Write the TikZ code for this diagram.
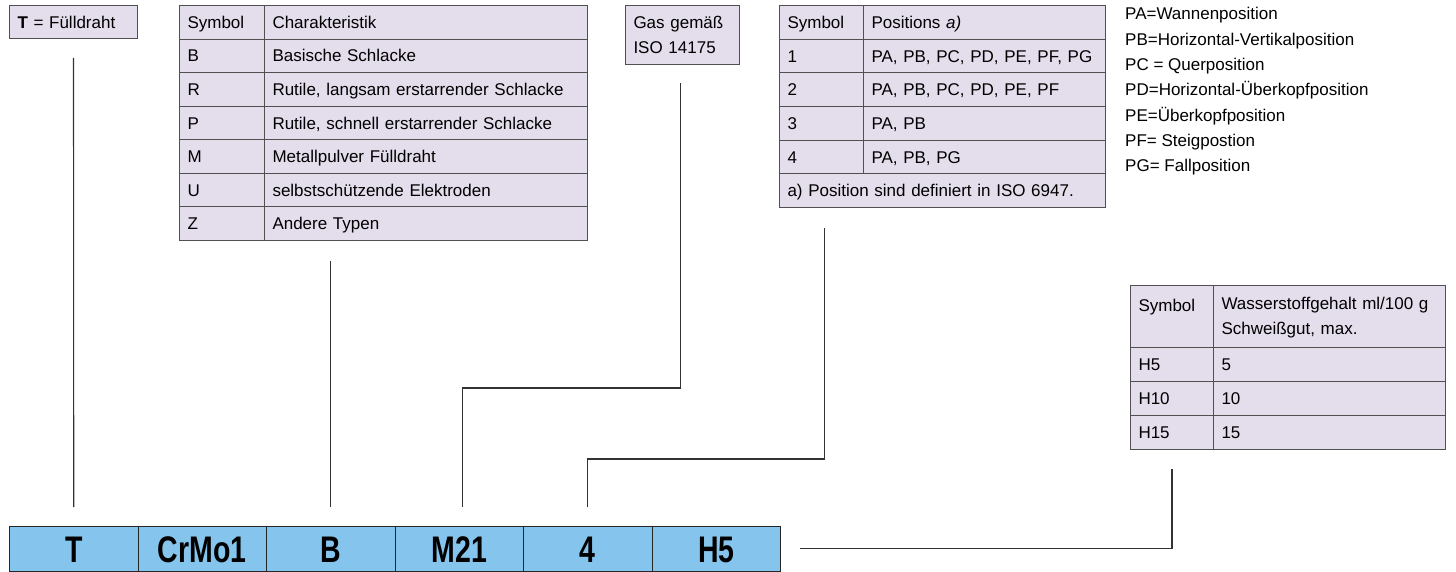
\documentclass[tikz,border=0pt]{standalone}
\usepackage{fontspec}
\setmainfont{Liberation Sans}
\newfontfamily\barfont{Liberation Sans}[FakeStretch=0.77]
\usetikzlibrary{calc}
\definecolor{lav}{HTML}{E4DDEC}
\definecolor{bord}{HTML}{505050}
\definecolor{barblue}{HTML}{85C4EC}
\definecolor{linecol}{HTML}{333333}
\begin{document}
\begin{tikzpicture}[x=1pt,y=-1pt,
  every node/.style={font=\fontsize{17}{25.3}\selectfont},
  cell/.style={draw=bord, fill=lav, line width=1pt, inner xsep=8pt, inner ysep=0pt, anchor=north west, align=left},
  one/.style={text height=16pt, text depth=3.8pt},
  t1a/.style={cell, one, text width=69pt, minimum height=33.57pt},
  t1b/.style={cell, one, text width=307pt, minimum height=33.57pt},
  t2a/.style={cell, one, text width=68pt, minimum height=33.67pt},
  t2b/.style={cell, one, text width=226pt, minimum height=33.67pt},
  t3a/.style={cell, one, text width=67pt, minimum height=34pt},
  t3b/.style={cell, one, text width=216pt, minimum height=34pt},
  legend/.style={anchor=base west, inner sep=0pt},
  barcell/.style={draw=black!85, fill=barblue, line width=1pt, anchor=north west, inner sep=0pt,
     minimum width=128.5pt, minimum height=44.5pt, text height=27pt, text depth=0pt,
     font={\barfont\bfseries\fontsize{37}{40}\selectfont}},
  conn/.style={draw=linecol, line width=1.1pt}
]
\useasboundingbox (0,0) rectangle (1456,572);

% T = Fuelldraht
\node[cell, one, text width=112pt, minimum height=33pt] (fuell) at (9,5) {\textbf{T} = Fülldraht};

% Table 1
\node[t1a] (t1a0) at (179,5) {Symbol};
\node[t1b] (t1b0) at (264,5) {Charakteristik};
\node[t1a] (t1a1) at (179,38.57) {B};
\node[t1b] (t1b1) at (264,38.57) {Basische Schlacke};
\node[t1a] (t1a2) at (179,72.14) {R};
\node[t1b] (t1b2) at (264,72.14) {Rutile, langsam erstarrender Schlacke};
\node[t1a] (t1a3) at (179,105.71) {P};
\node[t1b] (t1b3) at (264,105.71) {Rutile, schnell erstarrender Schlacke};
\node[t1a] (t1a4) at (179,139.29) {M};
\node[t1b] (t1b4) at (264,139.29) {Metallpulver Fülldraht};
\node[t1a] (t1a5) at (179,172.86) {U};
\node[t1b] (t1b5) at (264,172.86) {selbstschützende Elektroden};
\node[t1a] (t1a6) at (179,206.43) {Z};
\node[t1b] (t1b6) at (264,206.43) {Andere Typen};

% Gas box
\node[cell, text width=98pt, minimum height=59pt] (gas) at (625,5) {Gas gemäß\\ISO 14175};

% Table 2
\node[t2a] (t2a0) at (779,5) {Symbol};
\node[t2b] (t2b0) at (863,5) {Positions \textit{a)}};
\node[t2a] (t2a1) at (779,38.67) {1};
\node[t2b] (t2b1) at (863,38.67) {PA, PB, PC, PD, PE, PF, PG};
\node[t2a] (t2a2) at (779,72.33) {2};
\node[t2b] (t2b2) at (863,72.33) {PA, PB, PC, PD, PE, PF};
\node[t2a] (t2a3) at (779,106) {3};
\node[t2b] (t2b3) at (863,106) {PA, PB};
\node[t2a] (t2a4) at (779,139.67) {4};
\node[t2b] (t2b4) at (863,139.67) {PA, PB, PG};
\node[cell, one, text width=310pt, minimum height=33.67pt] (t2f) at (779,173.33) {a) Position sind definiert in ISO 6947.};

% Legend
\node[legend] (leg1) at (1125,20) {PA=Wannenposition};
\node[legend] (leg2) at (1125,45.3) {PB=Horizontal-Vertikalposition};
\node[legend] (leg3) at (1125,70.6) {PC = Querposition};
\node[legend] (leg4) at (1125,95.9) {PD=Horizontal-Überkopfposition};
\node[legend] (leg5) at (1125,121.2) {PE=Überkopfposition};
\node[legend] (leg6) at (1125,146.5) {PF= Steigpostion};
\node[legend] (leg7) at (1125,171.8) {PG= Fallposition};

% Table 3
\node[cell, text width=67pt, minimum height=62pt] (t3a0) at (1130,285) {\rule{0pt}{15pt}Symbol\\\mbox{}};
\node[cell, text width=216pt, minimum height=62pt] (t3b0) at (1213,285) {\rule{0pt}{15pt}Wasserstoffgehalt~ml/100~g\\Schweißgut, max.};
\node[t3a] (t3a1) at (1130,347) {H5};
\node[t3b] (t3b1) at (1213,347) {5};
\node[t3a] (t3a2) at (1130,381) {H10};
\node[t3b] (t3b2) at (1213,381) {10};
\node[t3a] (t3a3) at (1130,415) {H15};
\node[t3b] (t3b3) at (1213,415) {15};

% Bottom bar
\node[barcell] (bT) at (9,526) {T};
\node[barcell] (bC) at (137.5,526) {CrMo1};
\node[barcell] (bB) at (266,526) {B};
\node[barcell] (bM) at (394.5,526) {M21};
\node[barcell] (b4) at (523,526) {4};
\node[barcell] (bH) at (651.5,526) {H5};

% Connectors
\draw[conn] ($(fuell.south)+(0,19)$) -- ($(bT.north)+(0,-19)$);
\draw[conn] ($(bB.north |- t1a6.south)+(0,20)$) -- ($(bB.north)+(0,-19)$);
\draw[conn] ($(bM.north)+(3,-19)$) |- ($(gas.south)+(-2,323)$) -- ($(gas.south)+(-2,18)$);
\draw[conn] ($(b4.north)+(0,-19)$) |- ($(t2a4.south |- t2f.south)+(3,251)$) -- ($(t2a4.south |- t2f.south)+(3,20)$);
\draw[conn] ($(bH.east)+(19,0)$) -| ($(t3a3.south)+(0,19)$);
\end{tikzpicture}
\end{document}
